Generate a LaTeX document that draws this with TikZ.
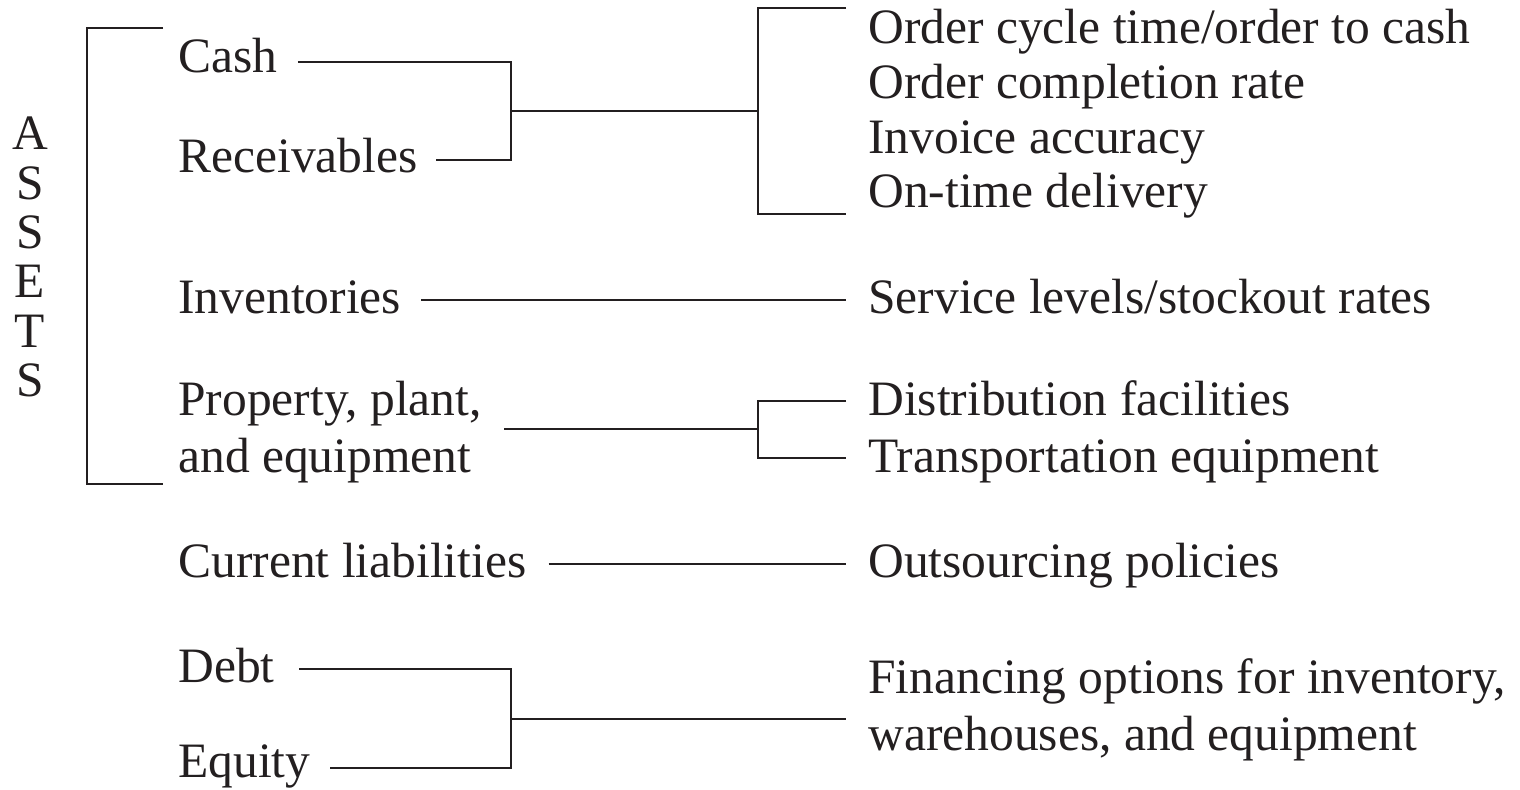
\documentclass[tikz,border=0pt]{standalone}
\usepackage{fontspec}
\setmainfont{Liberation Serif}
\usetikzlibrary{calc}
\definecolor{ink}{RGB}{35,31,32}
\begin{document}
\begin{tikzpicture}[x=0.5pt,y=-0.5pt,
  lbl/.style={inner sep=0pt, anchor=base west, text=ink,
    font=\fontsize{24.75}{28.5}\selectfont},
  conn/.style={draw=ink, line width=1.45pt}]
\useasboundingbox (0,0) rectangle (1520,789);

% left column
\node[lbl, anchor=center, align=center, font=\fontsize{24.75}{24.7}\selectfont] (assets) at (30,257) {A\\S\\S\\E\\T\\S};
\node[lbl] (cash) at (178,72) {Cash};
\node[lbl] (recv) at (178,172) {Receivables};
\node[lbl] (inv) at (178,313) {Inventories};
\node[lbl, anchor=west, align=left] (ppe) at (178,432) {Property, plant,\\and equipment};
\node[lbl] (curr) at (178,577) {Current liabilities};
\node[lbl] (debt) at (178,682) {Debt};
\node[lbl] (eq) at (178,777) {Equity};

% right column
\node[lbl] (o1) at (868,43) {Order cycle time/order to cash};
\node[lbl] (o2) at (868,98) {Order completion rate};
\node[lbl] (o3) at (868,153) {Invoice accuracy};
\node[lbl] (o4) at (868,207) {On-time delivery};
\node[lbl] (svc) at (868,313) {Service levels/stockout rates};
\node[lbl] (dist) at (868,415) {Distribution facilities};
\node[lbl] (trans) at (868,472) {Transportation equipment};
\node[lbl] (out) at (868,577) {Outsourcing policies};
\node[lbl, anchor=west, align=left] (fin) at (868,710) {Financing options for inventory,\\warehouses, and equipment};

% junctions
\coordinate (aTop) at (163,28);
\coordinate (aSpine) at (87,256);
\coordinate (aBot) at (163,484);
\coordinate (j1) at (511,111);
\coordinate (j2) at (758,111);
\coordinate (j3) at (758,429);
\coordinate (j4) at (511,719);

% ASSETS bracket
\draw[conn] (aTop) -| (aSpine) |- (aBot);

% cash / receivables
\draw[conn] ($(cash.base east)+(20,-10)$) -| (j1) |- ($(recv.base east)+(18,-12)$);
\draw[conn] (j1) -- (j2);
\draw[conn] ($(o1.base west)+(-22,-35)$) -| (j2) |- ($(o4.base west)+(-22,7)$);

% inventories
\draw[conn] ($(inv.base east)+(20,-13)$) -- ($(svc.base west)+(-22,-13)$);

% property, plant, and equipment
\draw[conn] ($(j3 -| ppe.east)+(22,0)$) -- (j3);
\draw[conn] ($(dist.base west)+(-22,-14)$) -| (j3) |- ($(trans.base west)+(-22,-14)$);

% current liabilities
\draw[conn] ($(curr.base east)+(22,-13)$) -- ($(out.base west)+(-22,-13)$);

% debt / equity
\draw[conn] ($(debt.base east)+(24,-13)$) -| (j4) |- ($(eq.base east)+(19,-9)$);
\draw[conn] (j4) -- ($(j4 -| fin.west)+(-22,0)$);
\end{tikzpicture}
\end{document}
